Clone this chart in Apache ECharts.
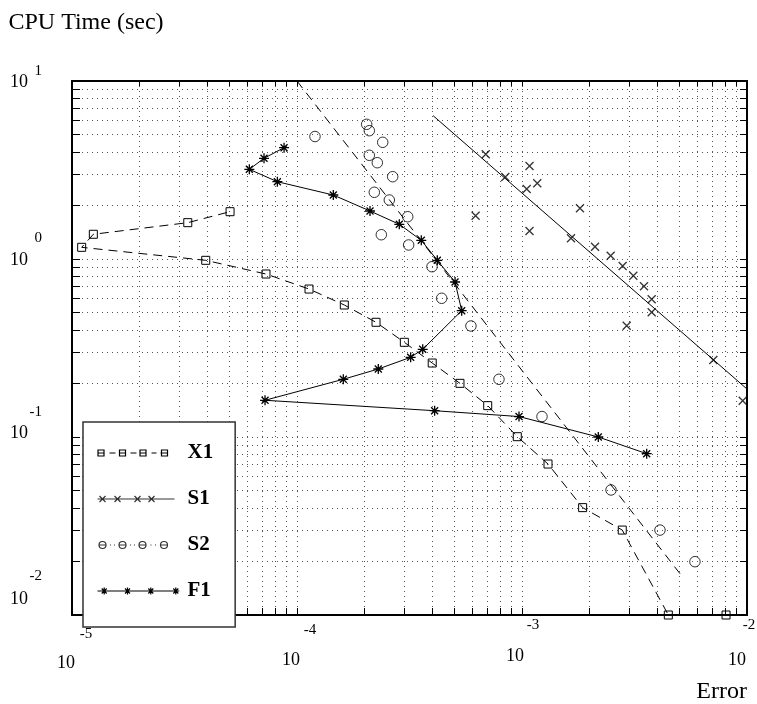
<!DOCTYPE html>
<html>
<head>
<meta charset="utf-8">
<title>CPU Time vs Error</title>
<script src="https://cdn.jsdelivr.net/npm/echarts@6/dist/echarts.min.js"></script>
<style>
html, body { margin: 0; padding: 0; background: #fff; }
#main { width: 757px; height: 704px; }
</style>
</head>
<body>
<div id="main"></div>
<script>
// tick marks and dotted grid, 1..9 per decade
var errTicks = [1e-5, 2e-5, 3e-5, 4e-5, 5e-5, 6e-5, 7e-5, 8e-5, 9e-5,
                1e-4, 2e-4, 3e-4, 4e-4, 5e-4, 6e-4, 7e-4, 8e-4, 9e-4,
                1e-3, 2e-3, 3e-3, 4e-3, 5e-3, 6e-3, 7e-3, 8e-3, 9e-3, 1e-2];
var cpuTicks = [0.01, 0.02, 0.03, 0.04, 0.05, 0.06, 0.07, 0.08, 0.09,
                0.1, 0.2, 0.3, 0.4, 0.5, 0.6, 0.7, 0.8, 0.9,
                1, 2, 3, 4, 5, 6, 7, 8, 9, 10];
var errLabels = [1e-5, 1e-4, 1e-3, 1e-2];
var errExp = ['-5', '-4', '-3', '-2'];
var cpuLabels = [10, 1, 0.1, 0.01];
var cpuExp = ['1', '0', '-1', '-2'];

// X1
var x1Err = [8.07e-3, 4.47e-3, 2.79e-3, 1.86e-3, 1.305e-3, 9.53e-4, 7.04e-4, 5.30e-4, 3.99e-4, 3.00e-4,
             2.245e-4, 1.623e-4, 1.131e-4, 7.28e-5, 3.93e-5, 1.104e-5, 1.244e-5, 3.27e-5, 5.04e-5];
var x1Cpu = [0.01, 0.01, 0.030, 0.0401, 0.0705, 0.1004, 0.150, 0.2002, 0.2604, 0.3404,
             0.441, 0.5515, 0.678, 0.8235, 0.983, 1.163, 1.377, 1.60, 1.844];

// S1 points + fitted line
var s1Err = [6.22e-4, 6.90e-4, 8.43e-4, 1.080e-3, 1.049e-3, 1.169e-3, 1.080e-3, 1.810e-3, 1.651e-3, 2.111e-3,
             2.478e-3, 2.80e-3, 3.125e-3, 3.485e-3, 3.77e-3, 3.77e-3, 2.92e-3, 7.085e-3, 9.57e-3];
var s1Cpu = [1.751, 3.876, 2.888, 3.330, 2.474, 2.663, 1.436, 1.927, 1.307, 1.172,
             1.043, 0.913, 0.806, 0.7025, 0.594, 0.502, 0.422, 0.2708, 0.160];
var s1FitErr = [4.03e-4, 1e-2];
var s1FitCpu = [6.38, 0.186];

// S2 points + fitted line
var s2Err = [1.202e-4, 2.04e-4, 2.096e-4, 2.404e-4, 2.096e-4, 2.275e-4, 2.662e-4, 2.206e-4, 2.572e-4, 3.105e-4,
             2.37e-4, 3.135e-4, 3.98e-4, 4.395e-4, 5.93e-4, 7.90e-4, 1.227e-3, 2.487e-3, 4.104e-3, 5.87e-3];
var s2Cpu = [4.877, 5.710, 5.258, 4.524, 3.825, 3.475, 2.900, 2.370, 2.145, 1.728,
             1.369, 1.199, 0.905, 0.6015, 0.4204, 0.211, 0.1303, 0.0504, 0.030, 0.01993];
var s2FitErr = [1e-4, 5.09e-3];
var s2FitCpu = [10, 0.01678];

// F1
var f1Err = [8.76e-5, 7.135e-5, 6.14e-5, 8.18e-5, 1.45e-4, 2.111e-4, 2.849e-4, 3.568e-4, 4.203e-4, 5.04e-4,
             5.395e-4, 3.62e-4, 3.20e-4, 2.298e-4, 1.606e-4, 7.21e-5, 4.09e-4, 9.70e-4, 2.183e-3, 3.582e-3];
var f1Cpu = [4.221, 3.679, 3.19, 2.718, 2.288, 1.861, 1.566, 1.274, 0.983, 0.7428,
             0.5125, 0.311, 0.2804, 0.241, 0.211, 0.1608, 0.1405, 0.1303, 0.100, 0.0806];

// label placement (pixels): ["10" dx, "10" y, exponent dx, exponent y]
var errLabelPos = [[-6, 663, 14, 634], [-6, 660, 13, 630], [-7, 656, 11, 625], [-10, 660, 2, 625]];
// ["10" x, "10" dy, exponent right x, exponent dy]
var cpuLabelPos = [[19, 1, 42, -10], [19, 1, 42, -21], [19, -3.5, 42, -25], [19, -16, 42, -39]];

var serif = '"Liberation Serif", "Times New Roman", serif';

function pairs(xs, ys) {
    return xs.map(function (x, i) { return [x, ys[i]]; });
}

var CROSS = 'path://M0,0L10,10M10,0L0,10';
var STAR = 'path://M5,0L5,10M0,5L10,5M1.5,1.5L8.5,8.5M8.5,1.5L1.5,8.5';

// legend samples, drawn in a 85x21 box
var box = 'M0,0M85,21';
function sq(c) { return 'M' + (c - 3) + ',7.5L' + (c + 3) + ',7.5L' + (c + 3) + ',13.5L' + (c - 3) + ',13.5Z'; }
function seg(a, b) { return 'M' + a + ',10.5L' + b + ',10.5'; }
function cross(c) { return 'M' + (c - 3) + ',7.5L' + (c + 3) + ',13.5M' + (c + 3) + ',7.5L' + (c - 3) + ',13.5'; }
function ring(c) { return 'M' + (c + 3.5) + ',10.5A3.5,3.5,0,1,1,' + (c - 3.5) + ',10.5A3.5,3.5,0,1,1,' + (c + 3.5) + ',10.5'; }
function star(c) {
    return 'M' + c + ',7L' + c + ',14M' + (c - 3.5) + ',10.5L' + (c + 3.5) + ',10.5' +
        'M' + (c - 2.5) + ',8L' + (c + 2.5) + ',13M' + (c + 2.5) + ',8L' + (c - 2.5) + ',13';
}
var iconX1 = box + sq(3.5) + sq(25) + sq(45.5) + sq(67) +
    seg(0, 7) + seg(12, 18) + seg(22, 28) + seg(33, 39) + seg(42, 49) + seg(54, 59) + seg(63, 70);
var iconS1 = box + cross(5) + cross(20) + cross(40) + cross(54) + seg(0, 77);
var iconS2 = box + ring(5) + ring(25) + ring(45) + ring(66.5) +
    seg(1.5, 8.5) + seg(21.5, 28.5) + seg(41.5, 48.5) + seg(63, 70) +
    seg(12.5, 13.5) + seg(16.5, 17.5) + seg(32.5, 33.5) + seg(36.5, 37.5) + seg(53, 54) + seg(57.5, 58.5);
var iconF1 = box + star(6.7) + star(30) + star(53.3) + star(78.3) + seg(0, 75);

var dotted = { color: '#555', width: 1, type: [1, 4] };
var frame = { color: '#000', width: 2 };

function logAxis(min, max, ticks, pos, tickLen, grid) {
    return {
        type: 'log', logBase: 10, min: min, max: max, position: pos,
        axisLine: { show: true, onZero: false, lineStyle: frame },
        axisTick: { show: true, inside: true, length: tickLen, customValues: ticks,
            lineStyle: { color: '#000', width: 1 } },
        axisLabel: { show: false },
        splitLine: { show: grid, lineStyle: dotted },
        minorTick: { show: false },
        minorSplitLine: { show: false }
    };
}

var xBottom = logAxis(1e-5, 1e-2, errTicks, 'bottom', 7, true);
xBottom.name = 'Error';
xBottom.nameLocation = 'end';
xBottom.nameGap = 0;
xBottom.nameTextStyle = { fontFamily: serif, fontSize: 24, color: '#000', align: 'right',
    verticalAlign: 'top', lineHeight: 24, padding: [65, 0, 0, 0] };
var xTop = logAxis(1e-5, 1e-2, errTicks, 'top', 5, false);

var yLeft = logAxis(0.01, 10, cpuTicks, 'left', 8, true);
yLeft.name = 'CPU Time (sec)';
yLeft.nameLocation = 'end';
yLeft.nameGap = 46;
yLeft.nameTextStyle = { fontFamily: serif, fontSize: 24, color: '#000', align: 'center',
    verticalAlign: 'bottom', lineHeight: 24, padding: [0, 0, 0, 28] };
var yRight = logAxis(0.01, 10, cpuTicks, 'right', 7, false);

var hollow = { color: 'transparent', borderColor: '#000', borderWidth: 1 };

var option = {
    backgroundColor: '#fff',
    animation: false,
    grid: { left: 72, right: 10, top: 81, bottom: 89, containLabel: false, outerBoundsMode: 'none' },
    xAxis: [xBottom, xTop],
    yAxis: [yLeft, yRight],
    legend: {
        orient: 'vertical', left: 83, top: 422,
        padding: [18, 22, 23, 12],
        itemWidth: 85, itemHeight: 21, itemGap: 20,
        backgroundColor: '#fff', borderColor: '#333', borderWidth: 1.5,
        textStyle: { fontFamily: serif, fontWeight: 'bold', fontSize: 21, color: '#000' },
        itemStyle: { color: 'none', borderColor: '#000', borderWidth: 1.2 },
        selectedMode: false,
        data: [
            { name: 'X1', icon: 'path://' + iconX1 },
            { name: 'S1', icon: 'path://' + iconS1 },
            { name: 'S2', icon: 'path://' + iconS2 },
            { name: 'F1', icon: 'path://' + iconF1 }
        ]
    },
    series: [
        {
            name: 'X1', type: 'line', silent: true,
            data: pairs(x1Err, x1Cpu),
            symbol: 'rect', symbolSize: 8,
            itemStyle: hollow,
            lineStyle: { color: '#000', width: 1, type: [9, 6] }
        },
        {
            name: 'S1', type: 'scatter', silent: true,
            data: pairs(s1Err, s1Cpu),
            symbol: CROSS, symbolSize: 8,
            itemStyle: { color: 'transparent', borderColor: '#000', borderWidth: 1.3 }
        },
        {
            name: 'S1', type: 'line', silent: true,
            data: pairs(s1FitErr, s1FitCpu),
            symbol: 'none',
            lineStyle: { color: '#000', width: 1 }
        },
        {
            name: 'S2', type: 'scatter', silent: true,
            data: pairs(s2Err, s2Cpu),
            symbol: 'circle', symbolSize: 10.5,
            itemStyle: hollow
        },
        {
            name: 'S2', type: 'line', silent: true,
            data: pairs(s2FitErr, s2FitCpu),
            symbol: 'none',
            lineStyle: { color: '#000', width: 1, type: [9, 6] }
        },
        {
            name: 'F1', type: 'line', silent: true,
            data: pairs(f1Err, f1Cpu),
            symbol: STAR, symbolSize: 10,
            itemStyle: { color: 'transparent', borderColor: '#000', borderWidth: 1.3 },
            lineStyle: { color: '#000', width: 1 }
        }
    ]
};

var chart = echarts.init(document.getElementById('main'), null, { renderer: 'canvas' });
chart.setOption(option);

// "10" with a raised exponent, placed off each decade tick
var texts = [];
errLabels.forEach(function (v, i) {
    var px = chart.convertToPixel({ xAxisIndex: 0 }, v);
    var p = errLabelPos[i];
    texts.push({ type: 'text', x: px + p[0], y: p[1], silent: true,
        style: { text: '10', font: '18px ' + serif, fill: '#000', textAlign: 'center', textVerticalAlign: 'middle' } });
    texts.push({ type: 'text', x: px + p[2], y: p[3], silent: true,
        style: { text: errExp[i], font: '15px ' + serif, fill: '#000', textAlign: 'center', textVerticalAlign: 'middle' } });
});
cpuLabels.forEach(function (v, i) {
    var py = chart.convertToPixel({ yAxisIndex: 0 }, v);
    var p = cpuLabelPos[i];
    texts.push({ type: 'text', x: p[0], y: py + p[1], silent: true,
        style: { text: '10', font: '18px ' + serif, fill: '#000', textAlign: 'center', textVerticalAlign: 'middle' } });
    texts.push({ type: 'text', x: p[2], y: py + p[3], silent: true,
        style: { text: cpuExp[i], font: '15px ' + serif, fill: '#000', textAlign: 'right', textVerticalAlign: 'middle' } });
});
chart.setOption({ graphic: texts });
</script>
</body>
</html>
